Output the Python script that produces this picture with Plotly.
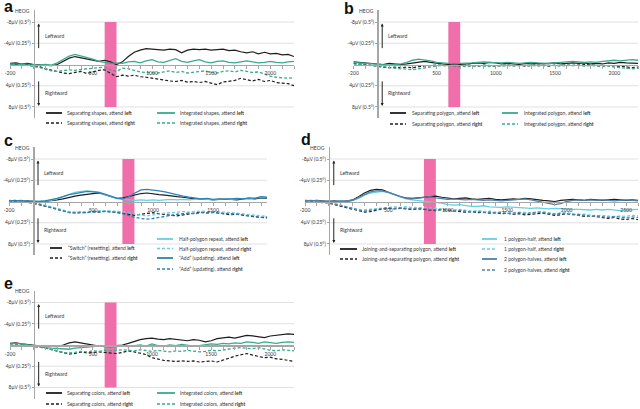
import plotly.graph_objects as go

# ---------------- data (µV; negative = leftward/up) ----------------
T_ABE = list(range(-200, 2201, 50))
T_C = list(range(-200, 1951, 50))
T_D = list(range(-200, 2601, 50))

a_sep_left = [
 -0.2,-0.3,-0.1,-0.2,0.0, 0.1,0.2,0.2,0.0,-0.6,
 -1.2,-1.5,-1.3,-1.1,-0.9, -0.6,-0.8,-0.5,0.0,-0.5,
 -1.5,-2.3,-2.7,-3.0,-2.9, -2.8,-2.7,-2.9,-2.8,-2.2,
 -2.7,-2.9,-2.8,-2.9,-2.7, -2.8,-2.9,-2.6,-2.7,-2.4,
 -2.2,-2.4,-2.0,-2.3,-2.0, -2.1,-1.8,-1.9,-1.5]
a_int_left = [
 -0.1,0.0,-0.1,0.0,0.1, 0.1,0.0,0.1,-0.3,-1.0,
 -1.6,-1.9,-1.6,-1.4,-1.0, -0.6,-0.4,-0.2,-0.3,-0.2,
 -0.5,-0.6,-0.3,-0.7,-0.9, -0.5,-0.4,-0.8,-1.1,-0.6,
 -0.4,-0.7,-0.9,-0.5,-0.3, -0.6,-0.7,-0.4,-0.3,-0.5,
 -0.7,-0.5,-0.3,-0.4,-0.6, -0.4,-0.3,-0.5,-0.6]
a_sep_right = [
 0.1,0.0,0.2,0.1,0.2, 0.4,0.8,1.1,1.3,1.6,
 1.7,1.5,1.3,1.7,1.4, 1.1,1.0,1.6,2.3,2.0,
 2.2,2.0,2.3,2.4,2.6, 2.7,2.9,3.1,3.2,3.0,
 3.3,3.2,3.4,3.2,3.5, 3.8,3.3,3.1,3.0,2.6,
 2.9,3.1,2.8,3.2,3.0, 3.4,3.5,3.6,4.0]
a_int_right = [
 0.0,0.1,0.0,0.2,0.3, 0.6,0.9,1.2,1.3,1.2,
 1.0,1.1,0.9,0.8,0.7, 0.6,0.5,1.0,1.3,0.7,
 0.8,1.1,1.4,1.5,1.5, 1.6,1.4,1.2,1.5,1.3,
 1.6,1.5,1.3,1.2,1.5, 1.6,1.3,1.2,1.4,1.1,
 1.3,1.5,1.4,1.8,2.2, 2.4,2.5,2.6,2.5]

b_sep_left = [
 -0.5,-0.4,-0.3,-0.2,-0.1, 0.0,-0.2,-0.1,0.0,-0.1,
 -0.3,-0.5,-0.6,-0.4,-0.2, -0.1,0.0,-0.1,0.0,-0.1,
 -0.2,-0.3,-0.2,-0.4,-0.3, -0.1,-0.2,-0.1,0.0,-0.2,
 -0.1,-0.2,-0.1,-0.2,-0.3, -0.1,-0.2,-0.3,-0.2,-0.3,
 -0.1,-0.2,-0.1,-0.3,-0.2, -0.4,-0.3,-0.3,-0.2]
b_int_left = [
 -0.4,-0.3,-0.2,-0.1,-0.1, 0.0,0.1,0.0,-0.1,-0.4,
 -0.8,-1.0,-0.9,-0.7,-0.4, -0.3,-0.2,-0.1,-0.2,-0.2,
 -0.3,-0.4,-0.5,-0.4,-0.3, -0.3,-0.4,-0.3,-0.2,-0.3,
 -0.4,-0.3,-0.2,-0.2,-0.3, -0.4,-0.5,-0.6,-0.5,-0.4,
 -0.5,-0.4,-0.6,-0.7,-0.8, -0.7,-0.8,-0.9,-0.8]
b_sep_right = [
 -0.2,-0.1,0.0,0.1,0.3, 0.5,0.6,0.5,0.6,0.5,
 0.6,0.4,0.3,0.2,0.1, 0.2,0.1,0.2,0.3,0.1,
 0.2,0.3,0.1,0.2,0.3, 0.2,0.1,0.2,0.1,0.3,
 0.2,0.1,0.2,0.3,0.1, 0.2,0.1,0.2,0.1,0.0,
 0.1,0.2,0.3,0.2,0.4, 0.3,0.5,0.6,0.5]
b_int_right = [
 -0.1,0.0,0.1,0.2,0.2, 0.4,0.6,0.7,0.8,0.9,
 1.0,0.8,0.6,0.4,0.3, 0.2,0.3,0.2,0.3,0.4,
 0.3,0.2,0.3,0.4,0.2, 0.3,0.2,0.3,0.2,0.1,
 0.2,0.3,0.2,0.1,0.2, 0.3,0.2,0.1,0.2,0.3,
 0.2,0.3,0.4,0.3,0.5, 0.6,0.7,0.8,0.7]

c_sw_left = [
 -0.1,-0.2,0.0,-0.1,0.0, 0.1,0.0,-0.1,-0.3,-0.5,
 -0.8,-1.0,-1.2,-1.4,-1.5, -1.6,-1.3,-0.9,-0.6,-0.7,
 -1.0,-1.3,-1.5,-1.6,-1.4, -1.3,-1.2,-1.0,-0.9,-0.8,
 -0.6,-0.5,-0.4,-0.5,-0.3, -0.4,-0.5,-0.4,-0.3,-0.5,
 -0.6,-0.5,-0.7,-0.6]
c_sw_right = [
 0.0,0.1,0.0,0.1,0.3, 0.6,0.9,1.2,1.5,1.8,
 2.0,2.1,2.0,2.1,1.9, 2.0,1.8,1.9,2.1,2.3,
 2.5,2.6,2.4,2.2,2.1, 2.3,2.5,2.6,2.7,2.5,
 2.3,2.2,2.0,2.1,2.0, 2.2,2.3,2.5,2.4,2.6,
 2.7,2.9,3.0,3.1]
c_half_left = [
 -0.1,0.0,-0.1,0.0,0.1, 0.0,-0.1,-0.2,-0.5,-0.9,
 -1.3,-1.7,-1.9,-2.0,-1.9, -1.7,-1.3,-0.9,-0.6,-0.4,
 -0.3,-0.2,-0.3,-0.2,-0.3, -0.2,-0.3,-0.4,-0.3,-0.4,
 -0.3,-0.4,-0.5,-0.4,-0.3, -0.4,-0.5,-0.4,-0.5,-0.6,
 -0.5,-0.7,-0.8,-0.7]
c_half_right = [
 0.0,0.1,0.0,0.1,0.2, 0.4,0.7,1.0,1.3,1.6,
 1.9,2.0,2.0,1.9,1.8, 1.7,1.7,1.8,1.8,1.9,
 2.1,2.4,2.6,2.7,2.5, 2.3,2.2,2.1,2.0,1.9,
 2.0,1.9,1.8,1.9,1.9, 2.0,2.0,2.1,2.2,2.3,
 2.4,2.6,2.7,2.8]
c_add_left = [
 -0.2,-0.1,-0.2,0.0,-0.1, 0.0,-0.1,-0.3,-0.6,-0.9,
 -1.3,-1.5,-1.7,-1.9,-1.8, -1.7,-1.4,-1.0,-0.6,-0.5,
 -0.9,-1.6,-2.2,-2.3,-2.2, -2.0,-1.8,-1.5,-1.2,-1.0,
 -0.8,-0.6,-0.5,-0.6,-0.4, -0.5,-0.4,-0.5,-0.6,-0.5,
 -0.7,-0.6,-0.9,-0.8]
c_add_right = [
 0.1,0.0,0.1,0.0,0.2, 0.5,0.8,1.2,1.5,1.8,
 2.1,2.2,2.2,2.1,2.0, 1.9,1.9,2.0,2.0,2.3,
 2.7,3.0,3.2,3.3,3.2, 3.0,2.7,2.5,2.4,2.3,
 2.2,2.3,2.1,2.2,2.1, 2.2,2.2,2.3,2.4,2.5,
 2.6,2.8,3.0,2.9]

d_join_left = [
 -0.2,-0.1,-0.2,-0.1,0.0, -0.1,0.0,-0.1,-0.3,-0.9,
 -1.6,-2.1,-2.3,-2.2,-1.8, -1.3,-0.9,-0.7,-0.6,-0.7,
 -0.8,-0.9,-1.0,-0.8,-0.7, -0.5,-0.6,-0.7,-0.5,-0.4,
 -0.5,-0.6,-0.4,-0.3,-0.4, -0.5,-0.4,-0.6,-0.5,-0.3,
 -0.2,-0.1,0.0,-0.2,-0.3, -0.4,-0.3,-0.2,-0.4,-0.3,
 -0.2,-0.3,-0.4,-0.3,-0.2, -0.3,-0.2]
d_one_left = [
 -0.1,0.0,-0.1,0.0,0.1, 0.0,-0.1,0.0,-0.2,-0.6,
 -1.2,-1.6,-1.8,-1.9,-1.7, -1.3,-0.8,-0.5,-0.3,-0.2,
 -0.1,0.0,0.1,0.3,0.6, 0.7,0.6,0.8,0.9,0.9,
 0.8,1.0,1.1,1.1,1.0, 1.1,1.2,1.2,1.3,1.2,
 1.3,1.4,1.3,1.4,1.4, 1.5,1.5,1.6,1.6,1.5,
 1.6,1.5,1.6,1.7,1.6, 1.5,1.5]
d_two_left = [
 -0.1,-0.2,-0.1,0.0,-0.1, 0.0,-0.1,0.0,-0.2,-0.7,
 -1.3,-1.8,-2.0,-2.0,-1.7, -1.3,-0.9,-0.6,-0.5,-0.6,
 -0.8,-0.9,-0.7,-0.5,-0.4, -0.5,-0.4,-0.3,-0.4,-0.3,
 -0.2,-0.3,-0.2,-0.1,-0.2, -0.3,-0.4,-0.5,-0.3,-0.1,
 0.2,0.4,0.6,0.4,0.0, -0.2,-0.3,-0.2,-0.3,-0.2,
 -0.3,-0.2,-0.1,-0.2,-0.3, -0.2,-0.1]
d_join_right = [
 0.1,0.0,0.1,0.2,0.3, 0.6,0.9,1.2,1.5,1.8,
 2.0,1.9,1.6,1.4,1.3, 1.4,1.3,1.4,1.5,1.4,
 1.5,1.6,1.7,1.5,1.6, 1.8,1.9,2.0,1.9,2.1,
 2.0,2.2,2.1,2.3,2.2, 2.4,2.3,2.5,2.4,2.3,
 2.2,2.4,2.6,2.5,2.3, 2.4,2.6,2.8,2.7,2.9,
 3.1,3.2,3.0,3.3,3.4, 3.2,3.4]
d_one_right = [
 0.0,0.1,0.0,0.1,0.2, 0.4,0.7,1.0,1.3,1.5,
 1.6,1.5,1.3,1.2,1.1, 1.0,1.1,1.0,1.1,1.2,
 1.1,1.2,1.3,1.4,1.5, 1.6,1.5,1.7,1.8,1.7,
 1.9,1.8,2.0,1.9,2.0, 2.1,2.0,2.1,2.2,2.0,
 1.9,2.1,2.3,2.2,2.1, 2.3,2.5,2.4,2.6,2.7,
 2.6,2.8,2.9,2.7,2.8, 2.6,2.7]
d_two_right = [
 0.1,0.0,0.1,0.0,0.2, 0.5,0.8,1.1,1.4,1.6,
 1.8,1.7,1.5,1.3,1.2, 1.3,1.2,1.3,1.4,1.3,
 1.4,1.5,1.6,1.5,1.7, 1.8,1.7,1.9,2.0,1.9,
 2.1,2.0,2.2,2.1,2.3, 2.2,2.1,2.3,2.2,2.0,
 2.1,2.3,2.4,2.2,2.3, 2.5,2.4,2.6,2.8,2.7,
 2.9,3.0,2.8,3.0,3.1, 2.9,3.0]

e_sep_left = [
 -0.3,-0.4,-0.2,-0.1,0.1, 0.2,0.3,0.2,0.3,0.0,
 -0.4,-0.6,-0.4,-0.3,0.0, 0.2,0.2,0.3,0.1,0.0,
 -0.3,-0.7,-1.0,-1.2,-1.3, -1.1,-1.0,-1.2,-1.1,-0.9,
 -0.8,-1.0,-0.9,-0.6,-0.8, -1.2,-1.3,-1.5,-1.3,-1.6,
 -1.8,-1.7,-1.6,-1.4,-1.7, -1.8,-2.0,-2.1,-2.0]
e_int_left = [
 -0.2,-0.3,-0.2,0.0,0.2, 0.4,0.5,0.6,0.7,0.8,
 0.8,0.6,0.5,0.4,0.3, 0.2,0.3,0.4,0.3,0.2,
 0.3,0.1,0.0,0.2,-0.2, 0.1,0.2,0.0,0.1,-0.1,
 0.0,0.2,0.1,0.0,-0.2, -0.1,-0.3,-0.2,-0.4,-0.3,
 -0.6,-0.5,-0.3,-0.6,-0.4, -0.3,-0.5,-0.6,-0.5]
e_sep_right = [
 0.1,0.0,0.1,0.2,0.2, 0.4,0.6,0.9,1.2,1.5,
 1.7,1.6,1.3,1.5,1.4, 1.3,1.4,1.5,1.6,1.4,
 1.1,1.3,1.5,1.8,2.4, 2.7,2.9,3.0,3.1,3.0,
 3.1,3.0,3.2,3.1,3.0, 3.2,2.9,2.5,2.1,1.8,
 1.6,1.9,2.2,2.4,2.3, 2.6,2.7,2.9,3.1]
e_int_right = [
 0.0,0.1,0.0,0.1,0.2, 0.4,0.6,0.8,1.1,1.4,
 1.5,1.4,1.2,1.3,1.1, 1.2,1.0,1.1,1.0,0.9,
 1.0,1.1,0.9,1.0,1.2, 1.0,1.1,1.3,1.1,1.2,
 1.0,1.1,1.3,1.2,1.0, 1.1,0.9,0.8,0.6,0.5,
 0.6,0.7,0.5,0.8,1.0, 1.1,0.9,1.0,1.1]

Y_TICKS = [-8, -4, 4, 8]
Y_TICKTEXT = ["-8μV (0.5°)", "-4μV (0.25°)", "4μV (0.25°)", "8μV (0.5°)"]
X_TICKS_ABE = [-200, 500, 1000, 1500, 2000]
X_TICKS_C = [-200, 500, 1000, 1500]
X_TICKS_D = [-200, 500, 1000, 1500, 2000, 2500]

# ---------------- styling ----------------
W, H = 640, 409
def pxx(x): return x / W
def pxy(y): return 1 - y / H

UNIT = 5.31            # px per µV
Y_TOP, Y_BOT = -10.2, 10.1
BLACK = '#1e1e1e'
TEAL = '#39aa8b'
CYAN = '#66cfe2'
BLUE = '#2b84b6'
SBLUE = '#4d82ac'
PINK = '#f06ea9'
GRID = '#d8d8d8'
AXIS = '#a6a6a6'
TXT = '#3a3a3a'
FONT = 'Lato'
DASH = '3px,2px'

def L(txt, side):
    return f"{txt}, attend <b>{side}</b>"

panels = [
    dict(letter='a', lpos=(2, 11), x0=10, x1=294, t=T_ABE, rng=(-200, 2200), zero=64.5,
         ticks=X_TICKS_ABE, pink=(600, 700),
         series=[(L('Separating shapes', 'left'), a_sep_left, BLACK, 'solid', (46, 62, 65), 113),
                 (L('Integrated shapes', 'left'), a_int_left, TEAL, 'solid', (157, 175, 178), 113),
                 (L('Separating shapes', 'right'), a_sep_right, BLACK, DASH, (46, 62, 65), 123),
                 (L('Integrated shapes', 'right'), a_int_right, TEAL, DASH, (157, 175, 178), 123)]),
    dict(letter='b', lpos=(342, 13), x0=353.5, x1=638, t=T_ABE, rng=(-200, 2200), zero=64.5,
         ticks=X_TICKS_ABE, pink=(600, 700),
         series=[(L('Separating polygon', 'left'), b_sep_left, BLACK, 'solid', (390, 406, 410), 113),
                 (L('Integrated polygon', 'left'), b_int_left, TEAL, 'solid', (502, 518, 522), 113),
                 (L('Separating polygon', 'right'), b_sep_right, BLACK, DASH, (390, 406, 410), 124),
                 (L('Integrated polygon', 'right'), b_int_right, TEAL, DASH, (502, 518, 522), 124)]),
    dict(letter='c', lpos=(2, 145), x0=9, x1=267, t=T_C, rng=(-200, 1950), zero=201.5,
         ticks=X_TICKS_C, pink=(745, 845),
         series=[(L('“Switch” (resetting)', 'left'), c_sw_left, BLACK, 'solid', (50, 62, 66), 248),
                 (L('“Switch” (resetting)', 'right'), c_sw_right, BLACK, DASH, (50, 62, 66), 258),
                 (L('Half-polygon repeat', 'left'), c_half_left, CYAN, 'solid', (157, 173, 177), 239),
                 (L('Half-polygon repeat', 'right'), c_half_right, CYAN, DASH, (157, 173, 177), 248.5),
                 (L('“Add” (updating)', 'left'), c_add_left, BLUE, 'solid', (157, 173, 177), 258),
                 (L('“Add” (updating)', 'right'), c_add_right, BLUE, DASH, (157, 173, 177), 269)]),
    dict(letter='d', lpos=(299, 144), x0=305, x1=638, t=T_D, rng=(-200, 2600), zero=201.5,
         ticks=X_TICKS_D, pink=(800, 900),
         series=[(L('Joining-and-separating polygon', 'left'), d_join_left, BLACK, 'solid', (340, 357, 360), 249),
                 (L('Joining-and-separating polygon', 'right'), d_join_right, BLACK, DASH, (340, 357, 360), 259),
                 (L('1 polygon-half', 'left'), d_one_left, CYAN, 'solid', (482, 497, 502), 239),
                 (L('1 polygon-half', 'right'), d_one_right, CYAN, DASH, (482, 497, 502), 249),
                 (L('2 polygon-halves', 'left'), d_two_left, SBLUE, 'solid', (482, 497, 502), 259),
                 (L('2 polygon-halves', 'right'), d_two_right, SBLUE, DASH, (482, 497, 502), 270)]),
    dict(letter='e', lpos=(2, 288), x0=10, x1=294, t=T_ABE, rng=(-200, 2200), zero=345,
         ticks=X_TICKS_ABE, pink=(600, 700),
         series=[(L('Separating colors', 'left'), e_sep_left, BLACK, 'solid', (46, 62, 65), 393),
                 (L('Integrated colors', 'left'), e_int_left, TEAL, 'solid', (157, 175, 178), 393),
                 (L('Separating colors', 'right'), e_sep_right, BLACK, DASH, (46, 62, 65), 404),
                 (L('Integrated colors', 'right'), e_int_right, TEAL, DASH, (157, 175, 178), 404)]),
]

fig = go.Figure()
shapes, annos = [], []
layout = {}

for i, p in enumerate(panels, start=1):
    xa = 'x' if i == 1 else f'x{i}'
    ya = 'y' if i == 1 else f'y{i}'
    xkey = 'xaxis' if i == 1 else f'xaxis{i}'
    ykey = 'yaxis' if i == 1 else f'yaxis{i}'
    t0, t1 = p['rng']
    scale = (p['x1'] - p['x0']) / (t1 - t0)
    x_zero_px = p['x0'] + (0 - t0) * scale

    layout[xkey] = dict(domain=[pxx(p['x0']), pxx(p['x1'])], range=[t0, t1], anchor='free',
                        position=pxy(p['zero']), showline=True, linecolor=AXIS, linewidth=1.5,
                        ticks='outside', ticklen=3, tickcolor=AXIS, tickwidth=1,
                        tickmode='array', tickvals=p['ticks'], ticktext=[str(v) for v in p['ticks']],
                        tickfont=dict(size=5, color=TXT, family=FONT), showgrid=False, zeroline=False,
                        minor=dict(tickmode='linear', tick0=0, dtick=100, ticks='outside', ticklen=3,
                                   tickcolor=AXIS, tickwidth=1, showgrid=False),
                        automargin=False, fixedrange=True)
    layout[ykey] = dict(domain=[pxy(p['zero'] + Y_BOT * UNIT), pxy(p['zero'] + Y_TOP * UNIT)],
                        range=[Y_BOT, Y_TOP], anchor='free', position=pxx(x_zero_px),
                        showline=True, linecolor=AXIS, linewidth=1.5, ticks='outside', ticklen=2,
                        tickcolor=AXIS, tickmode='array', tickvals=Y_TICKS, ticktext=Y_TICKTEXT,
                        tickfont=dict(size=5, color=TXT, family=FONT), showgrid=False, zeroline=False,
                        automargin=False, fixedrange=True)

    for gv in Y_TICKS:
        shapes.append(dict(type='line', xref=xa, yref=ya, x0=0, x1=t1, y0=gv, y1=gv,
                           line=dict(color=GRID, width=0.8), layer='below'))
    shapes.append(dict(type='rect', xref=xa, yref=ya, x0=p['pink'][0], x1=p['pink'][1], y0=-8, y1=8,
                       fillcolor=PINK, line=dict(width=0), layer='below'))

    for name, vals, col, dash, lcol, ly in p['series']:
        assert len(vals) == len(p['t']), (name, len(vals), len(p['t']))
        fig.add_trace(go.Scatter(x=p['t'], y=vals, mode='lines', xaxis=xa, yaxis=ya, name=name,
                                 line=dict(color=col, width=1.3 if col != BLACK else 1.2, dash=dash),
                                 showlegend=False, hoverinfo='skip'))
        xl0, xl1, xt = lcol
        shapes.append(dict(type='line', xref='paper', yref='paper', x0=pxx(xl0), x1=pxx(xl1),
                           y0=pxy(ly), y1=pxy(ly),
                           line=dict(color=col, width=1.8 if dash == 'solid' else 1.4, dash=dash)))
        annos.append(dict(xref='paper', yref='paper', x=pxx(xt), y=pxy(ly), xanchor='left',
                          yanchor='middle', text=name, showarrow=False,
                          font=dict(size=5, color=TXT, family=FONT)))

    lx, lb = p['lpos']
    annos.append(dict(xref='paper', yref='paper', x=pxx(lx), y=pxy(lb - 4.8), xanchor='left',
                      yanchor='middle', text=f"<b>{p['letter']}</b>", showarrow=False,
                      font=dict(size=16, color='#111111', family='Liberation Sans')))
    annos.append(dict(xref='paper', yref='paper', x=pxx(x_zero_px - 1.5), y=pxy(p['zero'] - 54),
                      xanchor='right', yanchor='middle', text='HEOG', showarrow=False,
                      font=dict(size=5, color=TXT, family=FONT)))
    t_arrow = 5 / scale
    t_text = 9 / scale
    annos.append(dict(xref=xa, yref=ya, axref=xa, ayref=ya, x=t_arrow, y=-7.7, ax=t_arrow, ay=-2.8,
                      text='', showarrow=True, arrowhead=2, arrowsize=0.6, arrowwidth=1,
                      arrowcolor='#222222', standoff=0))
    annos.append(dict(xref=xa, yref=ya, axref=xa, ayref=ya, x=t_arrow, y=7.8, ax=t_arrow, ay=2.9,
                      text='', showarrow=True, arrowhead=2, arrowsize=0.6, arrowwidth=1,
                      arrowcolor='#222222', standoff=0))
    annos.append(dict(xref=xa, yref=ya, x=t_text, y=-5.4, xanchor='left', yanchor='middle',
                      text='Leftward', showarrow=False, font=dict(size=5, color=TXT, family=FONT)))
    annos.append(dict(xref=xa, yref=ya, x=t_text, y=5.4, xanchor='left', yanchor='middle',
                      text='Rightward', showarrow=False, font=dict(size=5, color=TXT, family=FONT)))

fig.update_layout(width=W, height=H, margin=dict(l=0, r=0, t=0, b=0, pad=0, autoexpand=False),
                  paper_bgcolor='white', plot_bgcolor='rgba(0,0,0,0)', showlegend=False,
                  shapes=shapes, annotations=annos, **layout)

# remove the browser's default 8px page margin so the 640x409 figure fills the window exactly
fig.write_html("out.html", config={'displayModeBar': False, 'staticPlot': True},
               post_script="document.body.style.margin='0';document.body.style.padding='0';")
